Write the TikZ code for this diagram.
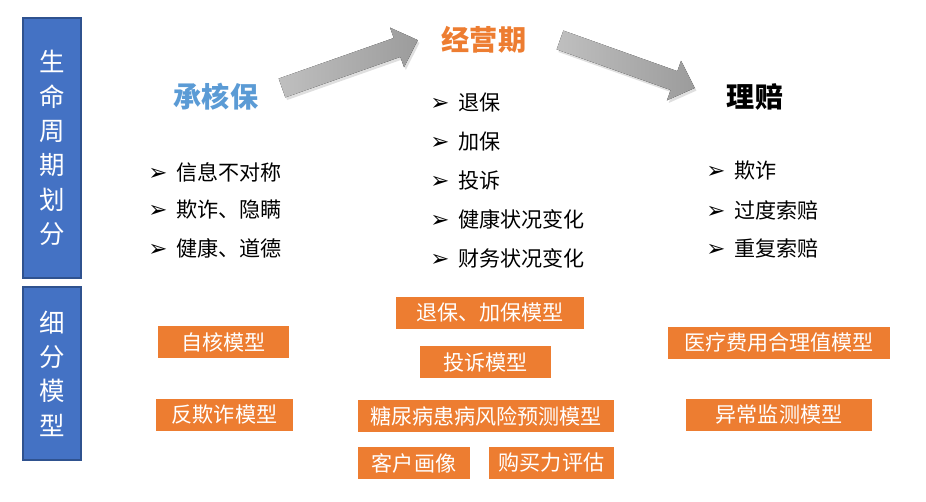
\documentclass[tikz,border=0pt]{standalone}
\usepackage{fontspec}
\usepackage{tikz}
\usetikzlibrary{shadows}
\newfontfamily\cjk{Noto Sans CJK SC}
\newfontfamily\dingfont{DejaVu Sans}
\definecolor{lifeblue}{HTML}{4472C4}
\definecolor{lifeedge}{HTML}{2F528F}
\definecolor{modelorange}{HTML}{ED7D31}
\definecolor{uwblue}{HTML}{5B9BD5}
\newcommand{\bul}{{\dingfont\fontsize{13}{12}\selectfont ➢}\hspace{5pt}}

\begin{document}
\begin{tikzpicture}[
    x=0.02cm, y=-0.02cm,
    lifebox/.style={draw=lifeedge, line width=1.2pt, fill=lifeblue,
        minimum width=1.16cm, inner sep=0pt},
    lifetext/.style={text=white, align=center, inner sep=0pt,
        font=\cjk\fontsize{14.5}{19.5}\selectfont},
    stage/.style={font=\cjk\bfseries\fontsize{16}{16}\selectfont, inner sep=0pt},
    item/.style={anchor=west, inner sep=0pt,
        font=\cjk\fontsize{12}{12}\selectfont},
    modelbox/.style={fill=modelorange, text=white, minimum height=0.64cm,
        inner sep=0pt, font=\cjk\fontsize{12}{12}\selectfont},
    flow/.style={left color=gray!50, right color=gray!78, draw=none,
        drop shadow={opacity=0.25, shadow xshift=1pt, shadow yshift=-1.5pt}}
]
\useasboundingbox (0,0) rectangle (926,502);

% Blocs laterals
\node[lifebox, minimum height=5.2cm] (life) at (52,148) {};
\node[lifetext] (lifet) at (life) {生\\命\\周\\期\\划\\分};
\node[lifebox, minimum height=3.46cm] (model) at (52,373.5) {};
\node[lifetext] (modelt) at (model) {细\\分\\模\\型};

% Fletxes
\begin{scope}[shift={(282,88)}, rotate=19.4]
\fill[flow] (0,-10) -- (122,-10) -- (122,-21) -- (144,0)
    -- (122,21) -- (122,10) -- (0,10) -- cycle;
\end{scope}
\begin{scope}[shift={(560,40)}, rotate=-19.6]
\fill[flow] (0,-10) -- (121,-10) -- (121,-21) -- (143,0)
    -- (121,21) -- (121,10) -- (0,10) -- cycle;
\end{scope}

% Etapes
\node[stage, text=uwblue] (uw) at (216,97) {承核保};
\node[stage, text=modelorange] (ops) at (484,40) {经营期};
\node[stage, text=black] (claim) at (755,97) {理赔};

% Llistes
\node[item] (uw1) at (148,172) {\bul 信息不对称};
\node[item] (uw2) at (148,210) {\bul 欺诈、隐瞒};
\node[item] (uw3) at (148,248) {\bul 健康、道德};

\node[item] (ops1) at (430,103) {\bul 退保};
\node[item] (ops2) at (430,142) {\bul 加保};
\node[item] (ops3) at (430,181) {\bul 投诉};
\node[item] (ops4) at (430,219) {\bul 健康状况变化};
\node[item] (ops5) at (430,258) {\bul 财务状况变化};

\node[item] (cl1) at (706,171) {\bul 欺诈};
\node[item] (cl2) at (706,210) {\bul 过度索赔};
\node[item] (cl3) at (706,248) {\bul 重复索赔};

% Models
\node[modelbox, minimum width=2.62cm] (m1) at (223.5,342.5) {自核模型};
\node[modelbox, minimum width=2.74cm] (m2) at (224.5,415) {反欺诈模型};
\node[modelbox, minimum width=3.76cm] (m3) at (490,313) {退保、加保模型};
\node[modelbox, minimum width=2.62cm] (m4) at (485.5,362.5) {投诉模型};
\node[modelbox, minimum width=5.12cm] (m5) at (486,416) {糖尿病患病风险预测模型};
\node[modelbox, minimum width=2.24cm] (m6) at (414,463) {客户画像};
\node[modelbox, minimum width=2.5cm] (m7) at (551.5,463) {购买力评估};
\node[modelbox, minimum width=4.44cm] (m8) at (779,343) {医疗费用合理值模型};
\node[modelbox, minimum width=3.72cm] (m9) at (779,415) {异常监测模型};

\end{tikzpicture}
\end{document}
